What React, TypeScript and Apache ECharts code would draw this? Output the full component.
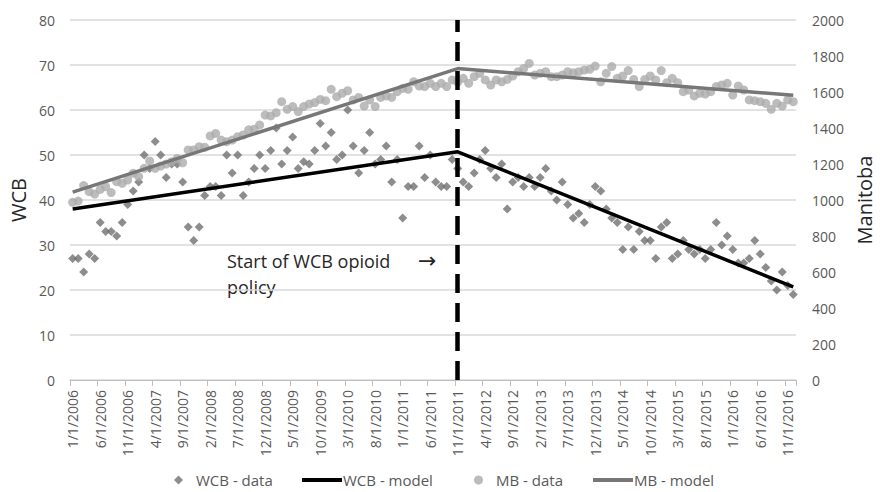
import React, { useEffect, useRef } from "react";
import * as echarts from "echarts";

// Monthly categories, January 2006 through December 2016
const firstYear = 2006;
const monthCount = 132;
const categories: string[] = [];
for (let k = 0; k < monthCount; k++) {
  categories.push(`${(k % 12) + 1}/1/${firstYear + Math.floor(k / 12)}`);
}

// WCB monthly counts (left axis)
const wcbData = [
  27, 27, 24, 28, 27, 35, 33, 33, 32, 35, 39, 42, 44, 50, 47, 53, 50, 45, 48, 48,
  44, 34, 31, 34, 41, 43, 43, 41, 50, 46, 50, 41, 44, 47, 50, 47, 51, 56, 48, 51,
  54, 47, 48.5, 48, 51, 57, 52, 55, 49, 50, 60, 52, 46, 51, 55, 48, 49, 52, 44, 49,
  36, 43, 43, 52, 45, 50, 44, 43, 43, 49, 47, 44, 43, 46, 49, 51, 47, 45, 48, 38,
  44, 45, 43, 45, 43, 45, 47, 42, 40, 44, 39, 36, 37, 35, 39, 43, 42, 38, 36, 35,
  29, 34, 29, 33, 31, 31, 27, 34, 35, 27, 28, 31, 29, 28, 29, 27, 29, 35, 30, 32,
  29, 26, 26, 27, 31, 28, 25, 22, 20, 24, 21, 19,
];

// Manitoba monthly counts (right axis)
const mbData = [
  987, 994, 1080, 1046, 1033, 1059, 1074, 1041, 1102, 1093, 1111, 1148, 1130, 1176, 1217, 1176, 1189, 1200, 1213, 1231,
  1207, 1278, 1278, 1296, 1293, 1356, 1370, 1333, 1324, 1333, 1352, 1361, 1390, 1393, 1417, 1472, 1467, 1485, 1546, 1504,
  1519, 1491, 1519, 1533, 1541, 1559, 1552, 1615, 1574, 1593, 1607, 1556, 1570, 1522, 1556, 1519, 1570, 1578, 1570, 1602,
  1620, 1615, 1657, 1633, 1630, 1648, 1630, 1648, 1630, 1667, 1655, 1676, 1648, 1685, 1704, 1667, 1639, 1667, 1657, 1670,
  1689, 1713, 1731, 1759, 1694, 1704, 1713, 1685, 1685, 1694, 1713, 1707, 1713, 1722, 1726, 1744, 1657, 1704, 1741, 1676,
  1689, 1719, 1670, 1630, 1670, 1689, 1667, 1719, 1652, 1676, 1652, 1602, 1611, 1578, 1593, 1589, 1602, 1630, 1639, 1648,
  1583, 1633, 1611, 1556, 1552, 1546, 1537, 1504, 1537, 1522, 1556, 1546,
];

// Segmented regression fits: knots at the start, the policy change and the end
const policyStart = "11/1/2011";
const modelKnots = ["1/1/2006", policyStart, "12/1/2016"];
const wcbModel = [38, 50.7, 20.7];
const mbModel = [1044, 1730, 1582];

const wcbTicks = { min: 0, max: 80, interval: 10 };
const mbTicks = { min: 0, max: 2000, interval: 200 };

const FONT = "'Open Sans', 'Noto Sans', sans-serif";
const TEXT = "#595959";

export default function App() {
  const ref = useRef<HTMLDivElement>(null);

  useEffect(() => {
    if (!ref.current) return;
    const chart = echarts.init(ref.current, null, { renderer: "svg" });

    const legendBase = {
      top: 472,
      padding: 0,
      orient: "horizontal" as const,
      textStyle: { color: TEXT, fontSize: 15, fontFamily: FONT, lineHeight: 16 },
      selectedMode: false,
    };

    chart.setOption({
      animation: false,
      backgroundColor: "#ffffff",
      textStyle: { fontFamily: FONT },
      grid: { left: 68, right: 91, top: 20, bottom: 112, containLabel: false },
      xAxis: {
        type: "category",
        data: categories,
        boundaryGap: true,
        axisLine: { lineStyle: { color: "#bfbfbf", width: 1 } },
        axisTick: { show: true, interval: 4, length: 6, lineStyle: { color: "#bfbfbf" } },
        axisLabel: {
          interval: 4,
          rotate: 90,
          margin: 10,
          color: TEXT,
          fontSize: 14,
          fontFamily: FONT,
        },
        splitLine: { show: false },
      },
      yAxis: [
        {
          type: "value",
          ...wcbTicks,
          name: "WCB",
          nameLocation: "middle",
          nameRotate: 90,
          nameGap: 36,
          nameTextStyle: { color: "#262626", fontSize: 20, fontFamily: FONT },
          axisLine: { show: false },
          axisTick: { show: false },
          axisLabel: { color: TEXT, fontSize: 14, fontFamily: FONT, margin: 15 },
          splitLine: { lineStyle: { color: "#d9d9d9", width: 1.5 } },
        },
        {
          type: "value",
          ...mbTicks,
          position: "right",
          name: "Manitoba",
          nameLocation: "middle",
          nameRotate: 90,
          nameGap: 57,
          nameTextStyle: { color: "#262626", fontSize: 20, fontFamily: FONT },
          axisLine: { show: false },
          axisTick: { show: false },
          axisLabel: {
            color: TEXT,
            fontSize: 14,
            fontFamily: FONT,
            margin: 16,
            formatter: (v: number) => String(v),
          },
          splitLine: { show: false },
        },
      ],
      legend: [
        {
          ...legendBase,
          left: 174,
          data: [{ name: "WCB - data", icon: "diamond" }],
          itemWidth: 9,
          itemHeight: 9,
          textStyle: { ...legendBase.textStyle, padding: [0, 0, 0, 8] },
        },
        {
          ...legendBase,
          left: 302,
          data: [{ name: "WCB - model", icon: "rect" }],
          itemWidth: 40,
          itemHeight: 4,
          textStyle: { ...legendBase.textStyle, padding: [0, 0, 0, -4] },
        },
        {
          ...legendBase,
          left: 474,
          data: [{ name: "MB - data", icon: "circle" }],
          itemWidth: 9,
          itemHeight: 9,
          textStyle: { ...legendBase.textStyle, padding: [0, 0, 0, 8] },
        },
        {
          ...legendBase,
          left: 593,
          data: [{ name: "MB - model", icon: "rect" }],
          itemWidth: 40,
          itemHeight: 4,
          textStyle: { ...legendBase.textStyle, padding: [0, 0, 0, -4] },
        },
      ],
      series: [
        {
          name: "WCB - data",
          type: "scatter",
          yAxisIndex: 0,
          data: wcbData,
          symbol: "diamond",
          symbolSize: 9,
          itemStyle: { color: "#707070" },
          z: 3,
        },
        {
          name: "MB - data",
          type: "scatter",
          yAxisIndex: 1,
          data: mbData,
          symbol: "circle",
          symbolSize: 9,
          itemStyle: { color: "#ababab" },
          z: 3,
        },
        {
          name: "WCB - model",
          type: "line",
          yAxisIndex: 0,
          data: modelKnots.map((c, i) => [c, wcbModel[i]]),
          symbol: "none",
          lineStyle: { color: "#000000", width: 3.5 },
          itemStyle: { color: "#000000" },
          z: 4,
          markLine: {
            silent: true,
            symbol: ["none", "none"],
            label: { show: false },
            lineStyle: { color: "#000000", width: 4.5, type: [19, 10] },
            data: [{ xAxis: policyStart }],
            z: 6,
          },
        },
        {
          name: "MB - model",
          type: "line",
          yAxisIndex: 1,
          data: modelKnots.map((c, i) => [c, mbModel[i]]),
          symbol: "none",
          lineStyle: { color: "#777777", width: 3.5 },
          itemStyle: { color: "#777777" },
          z: 4,
        },
      ],
      graphic: [
        {
          type: "text",
          left: 227,
          top: 248,
          style: {
            text: "Start of WCB opioid\npolicy",
            font: `18px ${FONT}`,
            fill: "#262626",
            lineHeight: 26,
          },
        },
        {
          type: "text",
          left: 418,
          top: 249,
          style: { text: "→", font: "22px 'DejaVu Sans', sans-serif", fill: "#262626" },
        },
      ],
    });

    return () => chart.dispose();
  }, []);

  return (
    <div
      ref={ref}
      style={{ position: "fixed", left: 0, top: 0, width: 887, height: 492 }}
    />
  );
}
